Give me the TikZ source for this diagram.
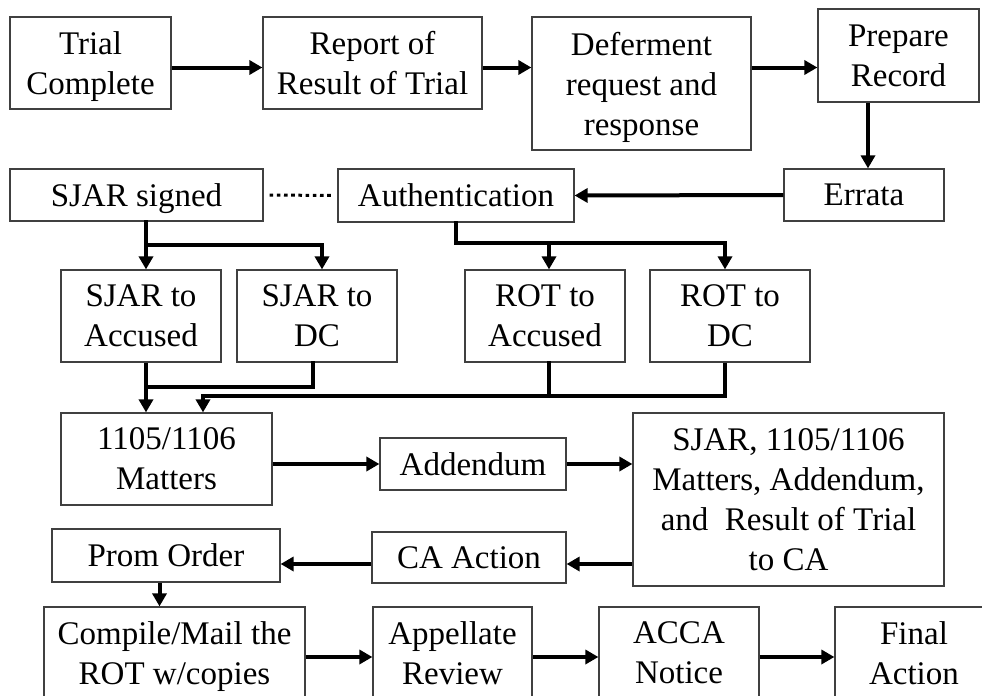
\documentclass[tikz,border=0pt]{standalone}
\usepackage{fontspec}
\setmainfont{Liberation Serif}
\usepackage{tikz}
\usetikzlibrary{arrows.meta}

\tikzset{
  box/.style={draw=black!75, line width=0.6pt, align=center, inner sep=0pt, text depth=0pt,
              font=\fontsize{16.5}{20}\selectfont},
  flow/.style={line width=2pt, -{Triangle[length=6.5pt,width=7pt]}},
  link/.style={line width=2pt, line cap=rect},
  dotlink/.style={line width=1.5pt, dash pattern=on 1.8pt off 1.8pt, shorten <=3pt, shorten >=2.5pt},
}

\begin{document}
\begin{tikzpicture}[x=0.5pt,y=-0.5pt]
  \useasboundingbox (0,0) rectangle (982,696);
  \clip (0,0) rectangle (982,696);

  \draw (90.5,63) node[box,minimum width=80.5pt,minimum height=46pt] (trial) {Trial\\Complete};
  \draw (372.5,63) node[box,minimum width=109.5pt,minimum height=46pt] (report) {Report of\\Result of Trial};
  \draw (641.5,83.5) node[box,minimum width=109.5pt,minimum height=66.5pt] (defer) {Deferment\\request and\\response};
  \draw (898.5,55.5) node[box,minimum width=80.5pt,minimum height=46.5pt] (prepare) {Prepare\\Record};

  \draw (136.5,195) node[box,minimum width=126.5pt,minimum height=26pt] (signed) {SJAR signed};
  \draw (456,195.5) node[box,minimum width=118pt,minimum height=26.5pt] (auth) {Authentication};
  \draw (864,195) node[box,minimum width=80pt,minimum height=26pt] (errata) {Errata};

  \draw (141,316) node[box,minimum width=80pt,minimum height=46pt] (sjaracc) {SJAR to\\Accused};
  \draw (317,316) node[box,minimum width=80pt,minimum height=46pt] (sjardc) {SJAR to\\DC};
  \draw (545,316) node[box,minimum width=80pt,minimum height=46pt] (rotacc) {ROT to\\Accused};
  \draw (730,316) node[box,minimum width=80pt,minimum height=46pt] (rotdc) {ROT to\\DC};

  \draw (166.5,459) node[box,minimum width=105.5pt,minimum height=46pt] (matters) {1105/1106\\Matters};
  \draw (473,464) node[box,minimum width=93pt,minimum height=26pt] (addendum) {Addendum};
  \draw (788.5,499.5) node[box,minimum width=155.5pt,minimum height=86.5pt] (toca) {SJAR, 1105/1106\\Matters, Addendum,\\and\ \ Result of Trial\\to CA};
  \draw (469,557.5) node[box,minimum width=97pt,minimum height=25.5pt] (caaction) {CA Action};
  \draw (166,555.5) node[box,minimum width=114pt,minimum height=26.5pt] (prom) {Prom Order};

  \draw (174.5,653) node[box,minimum width=130.5pt,minimum height=46pt] (compile) {Compile/Mail the\\ROT w/copies};
  \draw (452.5,653) node[box,minimum width=79.5pt,minimum height=46pt] (appellate) {Appellate\\Review};
  \draw (679,653) node[box,minimum width=80pt,minimum height=46pt] (acca) {ACCA\\Notice};
  \draw (914,653) node[box,minimum width=79pt,minimum height=46pt] (final) {Final\\Action};

  \coordinate (row1) at (0,67.5);
  \coordinate (sbr) at (146,245);
  \coordinate (abr) at (456,243);
  \coordinate (lm) at (146,387);
  \coordinate (rm) at (203,396);
  \coordinate (row5) at (0,564);
  \coordinate (row6) at (0,657);

  \draw[flow] (trial.east |- row1) -- (report.west |- row1);
  \draw[flow] (report.east |- row1) -- (defer.west |- row1);
  \draw[flow] (defer.east |- row1) -- (prepare.west |- row1);
  \draw[flow] ([xshift=2pt]errata.north |- prepare.south) -- ([xshift=2pt]errata.north);
  \draw[flow] (errata.west) -- (auth.east);
  \draw[dotlink] (signed.east) -- (auth.west);

  \draw[link] (sbr |- signed.south) -- (sbr);
  \draw[flow] (sbr) -- (sbr |- sjaracc.north);
  \draw[flow] (sbr) -| ([xshift=2.5pt]sjardc.north);
  \draw[link] (auth.south) -- (abr);
  \draw[flow] (abr) -| ([xshift=-2.5pt]rotdc.north);
  \draw[flow] ([xshift=2pt]rotacc.north |- abr) -- ([xshift=2pt]rotacc.north);

  \draw[flow] (sbr |- sjaracc.south) -- (sbr |- matters.north);
  \draw[link] ([xshift=-2pt]sjardc.south) |- (lm);
  \draw[link] ([xshift=2pt]rotacc.south) -- ([xshift=2pt]rotacc.south |- rm);
  \draw[flow] ([xshift=-2.5pt]rotdc.south) |- (rm) -- (rm |- matters.north);

  \draw[flow] (matters.east |- addendum) -- (addendum.west);
  \draw[flow] (addendum.east) -- (addendum.east -| toca.west);
  \draw[flow] (toca.west |- row5) -- (caaction.east |- row5);
  \draw[flow] (caaction.west |- row5) -- (prom.east |- row5);
  \draw[flow] ([xshift=-3.25pt]prom.south) -- ([xshift=-3.25pt]prom.south |- compile.north);

  \draw[flow] (compile.east |- row6) -- (appellate.west |- row6);
  \draw[flow] (appellate.east |- row6) -- (acca.west |- row6);
  \draw[flow] (acca.east |- row6) -- (final.west |- row6);
\end{tikzpicture}
\end{document}
